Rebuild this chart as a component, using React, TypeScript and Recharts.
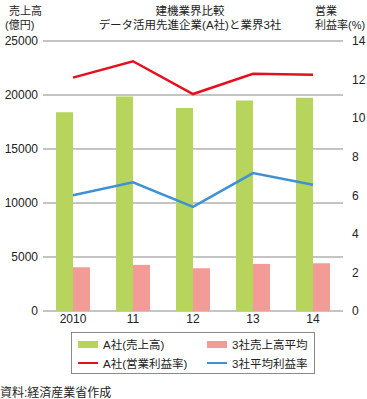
import React from 'react';
import { ComposedChart, Bar, Line, XAxis, YAxis, CartesianGrid } from 'recharts';

const years = ['2010', '11', '12', '13', '14'];
const salesA = [18400, 19850, 18800, 19500, 19750];
const sales3Avg = [4050, 4270, 3960, 4360, 4420];
const marginA = [12.1, 12.95, 11.25, 12.3, 12.25];
const margin3Avg = [6.0, 6.67, 5.4, 7.15, 6.55];

const leftTicks = [0, 5000, 10000, 15000, 20000, 25000];
const rightTicks = [0, 2, 4, 6, 8, 10, 12, 14];

const seriesNames = ['A社(売上高)', '3社売上高平均', 'A社(営業利益率)', '3社平均利益率'];
const colors = {
  green: '#b7d55c',
  pink: '#f29b97',
  red: '#e60f1e',
  blue: '#3f91d4',
  grid: '#8a8a8a',
  text: '#222222',
};

const data = years.map((y, i) => ({
  year: y,
  salesA: salesA[i],
  sales3Avg: sales3Avg[i],
  marginA: marginA[i],
  margin3Avg: margin3Avg[i],
}));

const FONT = '"Liberation Sans", "Noto Sans CJK JP", sans-serif';

const abs = (x: number, y: number, extra: React.CSSProperties = {}): React.CSSProperties => ({
  position: 'absolute',
  left: x,
  top: y,
  whiteSpace: 'nowrap',
  lineHeight: '12px',
  ...extra,
});

function LegendItem({ kind, color, label }: { kind: 'bar' | 'line'; color: string; label: string }) {
  return (
    <div style={{ display: 'flex', alignItems: 'center', height: 18 }}>
      <div
        style={{
          width: 20,
          height: kind === 'bar' ? 7 : 2.5,
          background: color,
          marginRight: 5,
        }}
      />
      <span>{label}</span>
    </div>
  );
}

export default function App() {
  const tickStyle = { fontSize: 12, fill: colors.text, fontFamily: FONT };
  return (
    <div
      style={{
        position: 'absolute',
        left: 0,
        top: 0,
        width: 367,
        height: 399,
        background: '#fff',
        fontFamily: FONT,
        color: colors.text,
        fontSize: 11,
      }}
    >
      <ComposedChart
        width={367}
        height={399}
        data={data}
        margin={{ top: 41, right: 0, bottom: 68, left: 0 }}
        barGap={0}
      >
        <CartesianGrid yAxisId="left" vertical={false} stroke={colors.grid} strokeWidth={1.2} />
        <XAxis
          dataKey="year"
          height={20}
          axisLine={false}
          tickLine={false}
          tickSize={0}
          tickMargin={3}
          tick={tickStyle}
        />
        <YAxis
          yAxisId="left"
          width={43}
          domain={[0, 25000]}
          ticks={leftTicks}
          axisLine={false}
          tickLine={false}
          tickSize={0}
          tickMargin={5}
          tick={tickStyle}
        />
        <YAxis
          yAxisId="right"
          orientation="right"
          width={24}
          domain={[0, 14]}
          ticks={rightTicks}
          axisLine={false}
          tickLine={false}
          tickSize={0}
          tickMargin={9}
          tick={tickStyle}
        />
        <Bar yAxisId="left" dataKey="salesA" name={seriesNames[0]} fill={colors.green} barSize={17} isAnimationActive={false} />
        <Bar yAxisId="left" dataKey="sales3Avg" name={seriesNames[1]} fill={colors.pink} barSize={17} isAnimationActive={false} />
        <Line yAxisId="right" type="linear" dataKey="marginA" name={seriesNames[2]} stroke={colors.red} strokeWidth={2.5} dot={false} isAnimationActive={false} />
        <Line yAxisId="right" type="linear" dataKey="margin3Avg" name={seriesNames[3]} stroke={colors.blue} strokeWidth={2.5} dot={false} isAnimationActive={false} />
      </ComposedChart>

      <div style={abs(9, 5)}>売上高</div>
      <div style={abs(5, 19)}>(億円)</div>
      <div style={{ position: 'absolute', left: 0, width: 380, top: 5, textAlign: 'center', lineHeight: '12px', fontSize: 11.5 }}>
        建機業界比較
      </div>
      <div style={{ position: 'absolute', left: 0, width: 380, top: 19, textAlign: 'center', lineHeight: '12px', fontSize: 11.5 }}>
        データ活用先進企業(A社)と業界3社
      </div>
      <div style={abs(315, 5)}>営業</div>
      <div style={abs(315, 19)}>利益率(%)</div>

      <div
        style={{
          position: 'absolute',
          left: 71,
          top: 332,
          width: 244,
          height: 42,
          border: '1px solid #8a8a8a',
          boxSizing: 'border-box',
          display: 'grid',
          gridTemplateColumns: '129px 110px',
          padding: '2px 0 0 6px',
          fontSize: 11.5,
        }}
      >
        <LegendItem kind="bar" color={colors.green} label={seriesNames[0]} />
        <LegendItem kind="bar" color={colors.pink} label={seriesNames[1]} />
        <LegendItem kind="line" color={colors.red} label={seriesNames[2]} />
        <LegendItem kind="line" color={colors.blue} label={seriesNames[3]} />
      </div>

      <div style={abs(0, 387, { fontSize: 12 })}>資料:経済産業省作成</div>
    </div>
  );
}
